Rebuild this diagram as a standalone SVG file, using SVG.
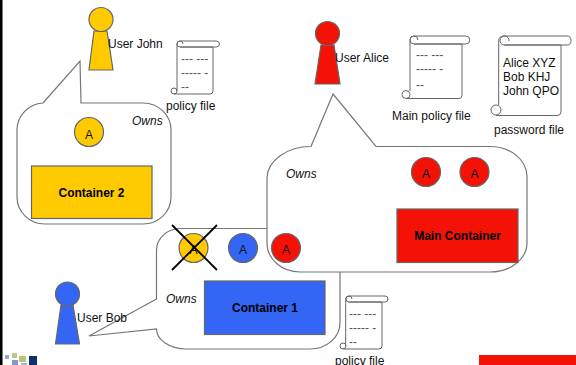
<svg xmlns="http://www.w3.org/2000/svg" width="576" height="365" viewBox="0 0 576 365">
<style>
text{font-family:"Liberation Sans",Arial,sans-serif;font-size:12px;fill:#111}
.b{font-weight:bold;text-anchor:middle;fill:#000}
.o{font-style:italic}
.c{text-anchor:middle}
.d{fill:#555}
.s{fill:none;stroke:#666;stroke-width:1}
.w{fill:#fff;stroke:#777;stroke-width:1.200}
.y{fill:#ffcb00;stroke:#666;stroke-width:1.200}
.r{fill:#f41207;stroke:#666;stroke-width:1.200}
.u{fill:#3366f5;stroke:#666;stroke-width:1.200}
</style>
<rect width="576" height="365" fill="#fff"/>
<rect x="0" y="0" width="2.500" height="365" fill="#000"/>
<g id="connectors">
<path class="w" d="M43,103 L80,61 L81,103 H143 A28,27 0 0 1 171,130 V197 A28,27 0 0 1 143,224 H45 A28,27 0 0 1 17,197 V130 A28,27 0 0 1 43,103 Z"/>
<path class="w" d="M156.500,299 L89,336 L156.500,329 A30,20 0 0 0 186,349 H310 A30,26 0 0 0 340,323 V228.500 H180 A24,22 0 0 0 156.500,250 Z"/>
<path class="w" d="M311,146.500 L333,94 L376,146.500 H490 A37,30 0 0 1 527,176 V243 A37,29 0 0 1 490,272 H300 A33,29 0 0 1 267,243 V178 A44,32 0 0 1 311,146.500 Z"/>
</g>
<g id="user-john">
<path class="y" d="M94,31 H107 L113,70 H89 Z"/>
<circle class="y" cx="101" cy="19.500" r="12"/>
<text x="108" y="48">User John</text>
</g>
<g id="user-alice">
<path class="r" d="M321,45 H334 L340,84 H315 Z"/>
<circle class="r" cx="327.500" cy="33.500" r="12"/>
<text x="335" y="62">User Alice</text>
</g>
<g id="user-bob">
<path class="u" d="M61,305 H73 L79.500,344 H55.500 Z"/>
<circle class="u" cx="67.500" cy="294" r="12"/>
<text x="77" y="322">User Bob</text>
</g>
<g id="policy-john">
<path class="s" d="M180,47 H213 V91 Q213,94 210,94 H174 M177,91 V44 Q177,41 180,41 H216 Q219.500,41 219.500,44 Q219.500,47 216,47 H180 A3,3 0 1 1 183,44"/>
<circle class="s" cx="174" cy="91" r="3"/>
<text class="d" x="181" y="63">--- ---</text>
<text class="d" x="181" y="77">----- -</text>
<text class="d" x="181" y="91">--</text>
<text x="166" y="110">policy file</text>
</g>
<g id="policy-alice">
<path class="s" d="M414,44 H462 V95 Q462,98.500 459,98.500 H406 M410,91 V40 Q410,36 414,36 H466 Q469.700,36 469.700,40 Q469.700,44 466,44 H414 A4,4 0 1 1 418,40"/>
<circle class="s" cx="406" cy="94.500" r="4"/>
<text class="d" x="416" y="59">--- ---</text>
<text class="d" x="416" y="73">----- -</text>
<text class="d" x="416" y="89">--</text>
<text x="392" y="120">Main policy file</text>
</g>
<g id="password-file">
<path class="s" d="M504,45 H561 V112 Q561,115.500 557,115.500 H496 M498.700,105 V41 Q498.700,36 504,36 H567 Q571,36 571,40.500 Q571,45 567,45 H504 A4.500,4.500 0 1 1 509,41"/>
<circle class="s" cx="496" cy="110" r="5"/>
<text x="503" y="67">Alice XYZ</text>
<text x="503" y="81">Bob KHJ</text>
<text x="503" y="95">John QPO</text>
<text x="494" y="134">password file</text>
</g>
<g id="policy-bob">
<path class="s" d="M349,302 H382 V346 Q382,349 379,349 H343 M345.700,346 V299 Q345.700,296 349,296 H385 Q388,296 388,299 Q388,302 385,302 H349 A3,3 0 1 1 352,299"/>
<circle class="s" cx="343" cy="346" r="3"/>
<text class="d" x="349" y="318">--- ---</text>
<text class="d" x="349" y="332">----- -</text>
<text class="d" x="349" y="346">--</text>
<text x="335" y="365">policy file</text>
</g>
<g id="container-2">
<rect class="y" x="31.500" y="166" width="120.500" height="52.500"/>
<text class="b" x="91.500" y="197">Container 2</text>
<circle class="y" cx="89" cy="132" r="14.500"/>
<text class="c" x="89" y="139">A</text>
<text class="o" x="132" y="125">Owns</text>
</g>
<g id="container-1">
<rect class="u" x="204.500" y="281" width="120.500" height="53.500"/>
<text class="b" x="265" y="312">Container 1</text>
<circle class="y" cx="193.500" cy="248" r="14.500"/>
<text class="c" x="193.500" y="254">A</text>
<circle class="u" cx="243" cy="248" r="14.500"/>
<text class="c" x="243" y="254">A</text>
<path d="M172,225 L217,270 M217,225 L172,270" fill="none" stroke="#000" stroke-width="1.800"/>
<text class="o" x="166" y="303">Owns</text>
</g>
<g id="main-container">
<rect class="r" x="397" y="209" width="121" height="53.500"/>
<text class="b" x="457.500" y="240">Main Container</text>
<circle class="r" cx="426" cy="172" r="14.500"/>
<text class="c" x="426" y="178">A</text>
<circle class="r" cx="474.500" cy="172" r="14.500"/>
<text class="c" x="474.500" y="178">A</text>
<circle class="r" cx="286" cy="248" r="14.500"/>
<text class="c" x="286" y="254">A</text>
<text class="o" x="286" y="178">Owns</text>
</g>
<rect x="479" y="355" width="97" height="10" fill="#f41207"/>
<g id="logo">
<rect x="5" y="355" width="4" height="4" fill="#8fa8c8"/>
<rect x="12" y="353" width="5" height="5" fill="#b9c98c"/>
<rect x="12" y="360" width="6" height="5" fill="#7f9cc4"/>
<rect x="19" y="356" width="7" height="6" fill="#b5c47f"/>
<rect x="21" y="363" width="6" height="2" fill="#9db4d4"/>
<rect x="29" y="356" width="8" height="9" fill="#0f2f6e"/>
</g>
</svg>
